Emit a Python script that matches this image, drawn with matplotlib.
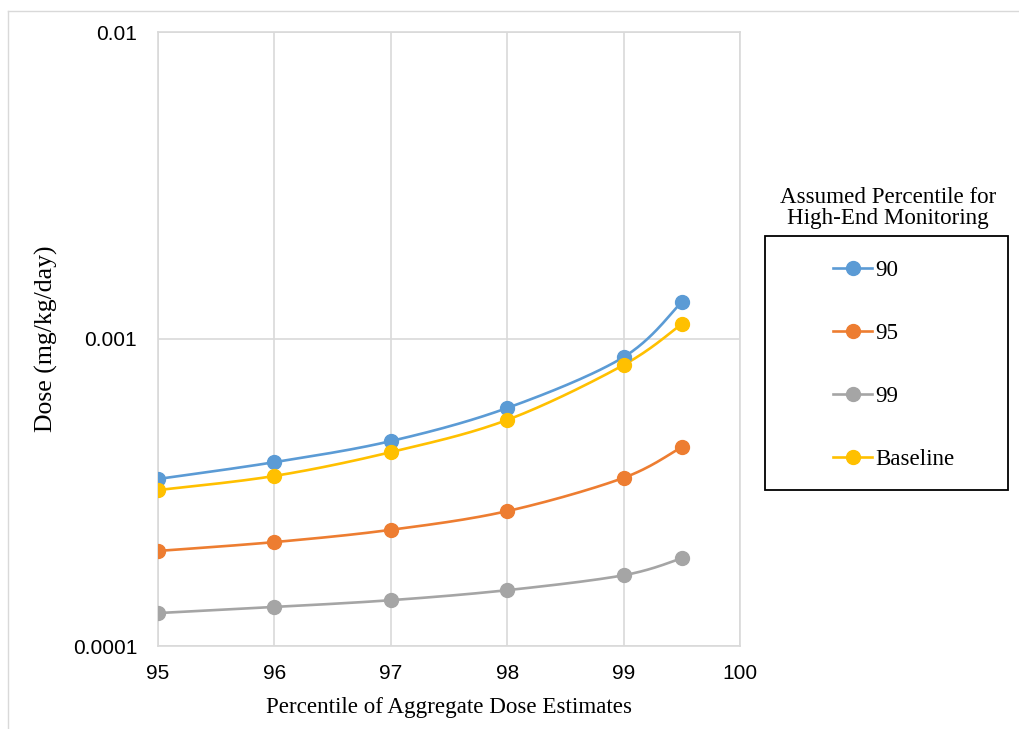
import numpy as np
import matplotlib
matplotlib.use("Agg")
import matplotlib.pyplot as plt
from matplotlib.lines import Line2D
from matplotlib.patches import Rectangle
from matplotlib.ticker import FixedLocator, FixedFormatter, NullLocator

# data
percentiles = [95, 96, 97, 98, 99, 99.5]
dose_90 = [0.000350, 0.000397, 0.000465, 0.000596, 0.000873, 0.00132]
dose_95 = [0.000204, 0.000218, 0.000239, 0.000275, 0.000353, 0.000445]
dose_99 = [0.000128, 0.000134, 0.000141, 0.000152, 0.000170, 0.000193]
dose_base = [0.000322, 0.000358, 0.000428, 0.000545, 0.000823, 0.00112]
series_names = ["90", "95", "99", "Baseline"]
colors = ["#5B9BD5", "#ED7D31", "#A5A5A5", "#FFC000"]
y_ticks = [0.0001, 0.001, 0.01]
y_tick_labels = ["0.0001", "0.001", "0.01"]
x_ticks = [95, 96, 97, 98, 99, 100]

SERIF = "Liberation Serif"
SANS = "Liberation Sans"


def smooth(xs, ys, n=30):
    # Excel-like smoothed line: cubic Bezier, control points from neighbours / 6
    px = np.asarray(xs, float)
    py = np.log10(np.asarray(ys, float))
    pts = np.column_stack([px, py])
    out = [pts[0]]
    t = np.linspace(0, 1, n)[1:, None]
    for i in range(len(pts) - 1):
        p0 = pts[max(i - 1, 0)]
        p1 = pts[i]
        p2 = pts[i + 1]
        p3 = pts[min(i + 2, len(pts) - 1)]
        c1 = p1 + (p2 - p0) / 6
        c2 = p2 - (p3 - p1) / 6
        seg = ((1 - t) ** 3) * p1 + 3 * ((1 - t) ** 2) * t * c1 + 3 * (1 - t) * t ** 2 * c2 + t ** 3 * p2
        out.extend(seg)
    out = np.array(out)
    return out[:, 0], 10 ** out[:, 1]


fig = plt.figure(figsize=(10.2, 7.29), dpi=100)
ax = fig.add_axes([158 / 1020, 1 - 646 / 729, 582 / 1020, 614 / 729])

all_series = [dose_90, dose_95, dose_99, dose_base]
for vals, col in zip(all_series, colors):
    sx, sy = smooth(percentiles, vals)
    ax.plot(sx, sy, color=col, lw=1.9, zorder=3, solid_capstyle="round")
    ax.plot(percentiles, vals, "o", color=col, ms=10, zorder=4)

ax.set_yscale("log")
ax.set_ylim(0.0001, 0.01)
ax.set_xlim(95, 100)
ax.yaxis.set_major_locator(FixedLocator(y_ticks))
ax.yaxis.set_major_formatter(FixedFormatter(y_tick_labels))
ax.yaxis.set_minor_locator(NullLocator())
ax.set_xticks(x_ticks)
ax.set_xticklabels([str(v) for v in x_ticks])
ax.tick_params(length=0, labelsize=15)
ax.tick_params(axis="y", pad=15)
ax.tick_params(axis="x", pad=13)
for lab in ax.get_xticklabels() + ax.get_yticklabels():
    lab.set_family(SANS)
    lab.set_color("black")
ax.grid(True, color="#D9D9D9", lw=1.2)
for s in ax.spines.values():
    s.set_color("#D9D9D9")
    s.set_linewidth(1.2)

ax.set_xlabel("Percentile of Aggregate Dose Estimates", family=SERIF, fontsize=16.6, labelpad=10)
ax.set_ylabel("Dose (mg/kg/day)", family=SERIF, fontsize=18.5, labelpad=11)

# legend: title above, box drawn separately
handles = [Line2D([], [], color=c, lw=1.9, marker="o", ms=10) for c in colors]
fig.legend(handles, series_names, loc="upper left", bbox_to_anchor=(833 / 1020, 1 - 260 / 729),
           frameon=False, borderpad=0, borderaxespad=0, labelspacing=1.81, handlelength=1.7,
           handletextpad=0.15, prop={"family": SERIF, "size": 16.6})
fig.patches.append(Rectangle((765 / 1020, 1 - 490 / 729), 243 / 1020, 254 / 729,
                             transform=fig.transFigure, fill=False, edgecolor="black", lw=1.3))
fig.text(888 / 1020, 1 - 208 / 729, "Assumed Percentile for\nHigh-End Monitoring",
         ha="center", va="center", family=SERIF, fontsize=16.6, linespacing=1.0)

# faint outer chart border
fig.add_artist(Line2D([8 / 1020, 1], [1 - 11 / 729, 1 - 11 / 729], color="#D9D9D9", lw=1, transform=fig.transFigure))
fig.add_artist(Line2D([8 / 1020, 8 / 1020], [0, 1 - 11 / 729], color="#D9D9D9", lw=1, transform=fig.transFigure))

fig.savefig("out.png", dpi=100)
